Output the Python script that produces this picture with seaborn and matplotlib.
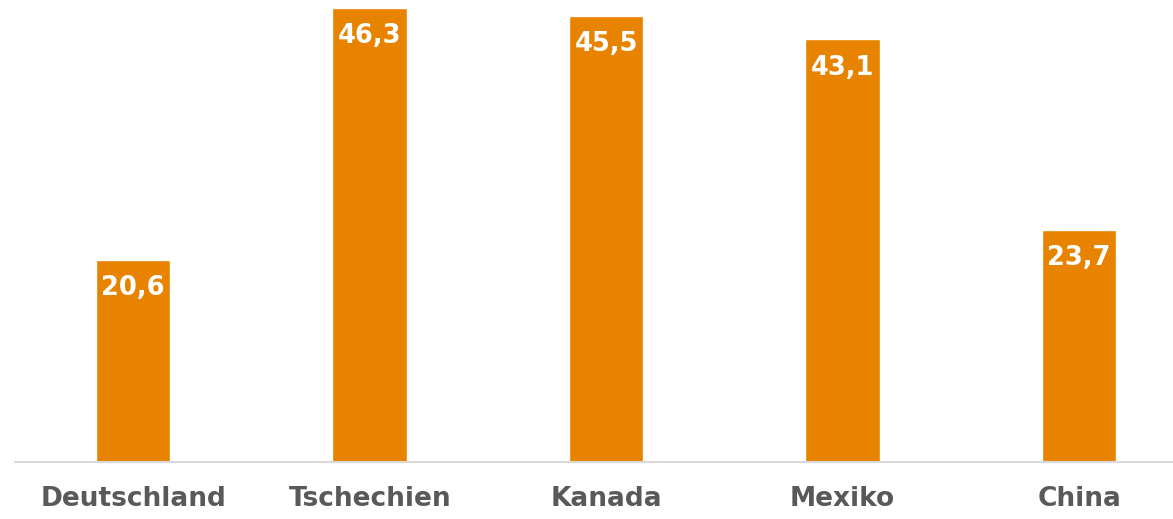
import matplotlib
matplotlib.use("Agg")
import matplotlib.pyplot as plt
import seaborn as sns
import pandas as pd

# values
countries = ['Deutschland', 'Tschechien', 'Kanada', 'Mexiko', 'China']
values = [20.6, 46.3, 45.5, 43.1, 23.7]

df = pd.DataFrame({'Land': countries, 'Wert': values})

sns.set_style("white")
plt.rcParams['font.family'] = ['DejaVu Sans']

fig = plt.figure(figsize=(11.73, 5.19), dpi=100)
ax = fig.add_axes([15 / 1173, 57 / 519, 1 - 15 / 1173, 462 / 519])

sns.barplot(data=df, x='Land', y='Wert', color='#E88300', saturation=1,
            width=0.315, ax=ax)

ax.set_xlim(-0.5, 4.397)
ax.set_ylim(0, 47.11)

# value labels inside bar tops
for i, v in enumerate(values):
    ax.annotate(f"{v:.1f}".replace('.', ','), xy=(i, v), xytext=(0, -20.5),
                textcoords='offset points', ha='center', va='center',
                color='white', fontsize=18.5, fontweight='bold')

ax.set_xlabel('')
ax.set_ylabel('')
ax.set_yticks([])
ax.tick_params(axis='x', length=0, pad=17, labelsize=19, labelcolor='#595959')
for lbl in ax.get_xticklabels():
    lbl.set_fontweight('bold')

for s in ['top', 'right', 'left']:
    ax.spines[s].set_visible(False)
ax.spines['bottom'].set_color('#D9D9D9')
ax.spines['bottom'].set_linewidth(1.5)

fig.savefig("out.png", dpi=100)
